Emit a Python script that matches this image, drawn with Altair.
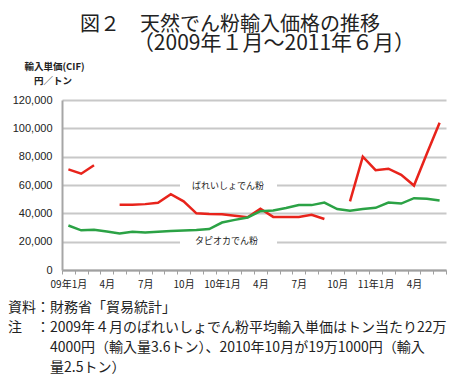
import json
import altair as alt
import pandas as pd

months = ["2009-01", "2009-02", "2009-03", "2009-04", "2009-05", "2009-06",
          "2009-07", "2009-08", "2009-09", "2009-10", "2009-11", "2009-12",
          "2010-01", "2010-02", "2010-03", "2010-04", "2010-05", "2010-06",
          "2010-07", "2010-08", "2010-09", "2010-10", "2010-11", "2010-12",
          "2011-01", "2011-02", "2011-03", "2011-04", "2011-05", "2011-06"]
tick_labels = ["09年1月", "", "", "4月", "", "", "7月", "", "", "10月", "", "",
               "10年1月", "", "", "4月", "", "", "7月", "", "", "10月", "", "",
               "11年1月", "", "", "4月", "", ""]

potato = [71000, 68000, 74000, None, 46000, 46000, 46500, 47500, 53500, 48500,
          40000, 39500, 39300, 38300, 37200, 43300, 37500, 37500, 37500, 39000,
          36000, None, 48400, 80000, 70500, 71500, 67200, 59600, 82000, 104000]
tapioca = [31400, 28000, 28400, 27200, 25800, 27000, 26500, 27000, 27500, 27800,
           28200, 28900, 33500, 35400, 37100, 41500, 42000, 43700, 45800, 45800,
           47600, 43000, 41800, 43000, 43900, 47600, 46900, 50700, 50300, 49000]

series_names = ["ばれいしょでん粉", "タピオカでん粉"]
series_colors = ["#e8231b", "#2ba245"]
y_ticks = [0, 20000, 40000, 60000, 80000, 100000, 120000]

rows = []
for name, vals in zip(series_names, [potato, tapioca]):
    seg = 0
    for m, v in zip(months, vals):
        if v is None:
            seg += 1
            continue
        rows.append({"month": m, "value": v, "series": name, "seg": f"{name}-{seg}"})
df = pd.DataFrame(rows)

label_expr = (json.dumps(tick_labels, ensure_ascii=False)
              + "[indexof(" + json.dumps(months) + ", datum.value)]")

FONT = "Noto Sans CJK JP"

lines = alt.Chart(df).mark_line(strokeWidth=2.5).encode(
    x=alt.X("month:O",
            scale=alt.Scale(type="band", domain=months, paddingInner=0, paddingOuter=0),
            bandPosition=0.5,
            axis=alt.Axis(title=None, labelExpr=label_expr, labelAngle=0,
                          labelFont=FONT, labelFontSize=10, labelColor="#222",
                          labelOverlap=False, labelPadding=5, tickBand="extent",
                          tickSize=4, tickColor="#a0a0a0", tickWidth=1,
                          domainColor="#a0a0a0", domainWidth=2, grid=False)),
    y=alt.Y("value:Q", scale=alt.Scale(domain=[0, 120000]),
            axis=alt.Axis(title=None, values=y_ticks, format=",d",
                          labelFont="Liberation Sans", labelFontSize=11,
                          labelColor="#222", ticks=False, labelPadding=10,
                          domainColor="#a6a6a6", domainWidth=2,
                          gridColor="#c8c8c8", gridWidth=2)),
    color=alt.Color("series:N", scale=alt.Scale(domain=series_names, range=series_colors),
                    legend=None),
    detail="seg:N",
)


def blank(x1, x2, y1, y2):
    return alt.Chart(alt.Data(values=[{"a": 1}])).mark_rect(color="white").encode(
        x=alt.value(x1), x2=alt.value(x2), y=alt.value(y1), y2=alt.value(y2))


def txt(s, x, y, size, align="center", font=FONT, weight="normal"):
    return alt.Chart(alt.Data(values=[{"t": s}])).mark_text(
        align=align, baseline="middle", fontSize=size, font=font,
        fontWeight=weight, color="#222").encode(
        x=alt.value(x), y=alt.value(y), text="t:N")


layers = [
    blank(118, 215, 80, 91),
    blank(118, 215, 136, 147),
    lines,
    txt(series_names[0], 166, 86, 9),
    txt(series_names[1], 164.5, 141, 9),
    txt("図２　天然でん粉輸入価格の推移", 168, -75, 20),
    txt("（2009年１月～2011年６月）", 212, -56, 21),
    txt("輸入単価(CIF)", -7.5, -33, 9.5, weight="bold"),
    txt("円／トン", -9, -19, 9.5, weight="bold"),
    txt("資料", -54, 208, 14, "left"),
    txt("：財務省「貿易統計」", -26, 208, 14, "left"),
    txt("注", -54, 228, 14, "left"),
    txt("：2009年４月のばれいしょでん粉平均輸入単価はトン当たり22万", -26, 228, 14, "left"),
    txt("4000円（輸入量3.6トン）、2010年10月が19万1000円（輸入", -12, 248, 14, "left"),
    txt("量2.5トン）", -12, 268, 14, "left"),
]

chart = alt.layer(*layers).properties(
    width=384, height=170,
    autosize=alt.AutoSizeParams(type="none"),
    padding={"left": 54, "top": 92, "right": 5, "bottom": 110},
).configure_view(stroke=None)

chart.save("out.html", embed_options={"renderer": "svg", "actions": False})
